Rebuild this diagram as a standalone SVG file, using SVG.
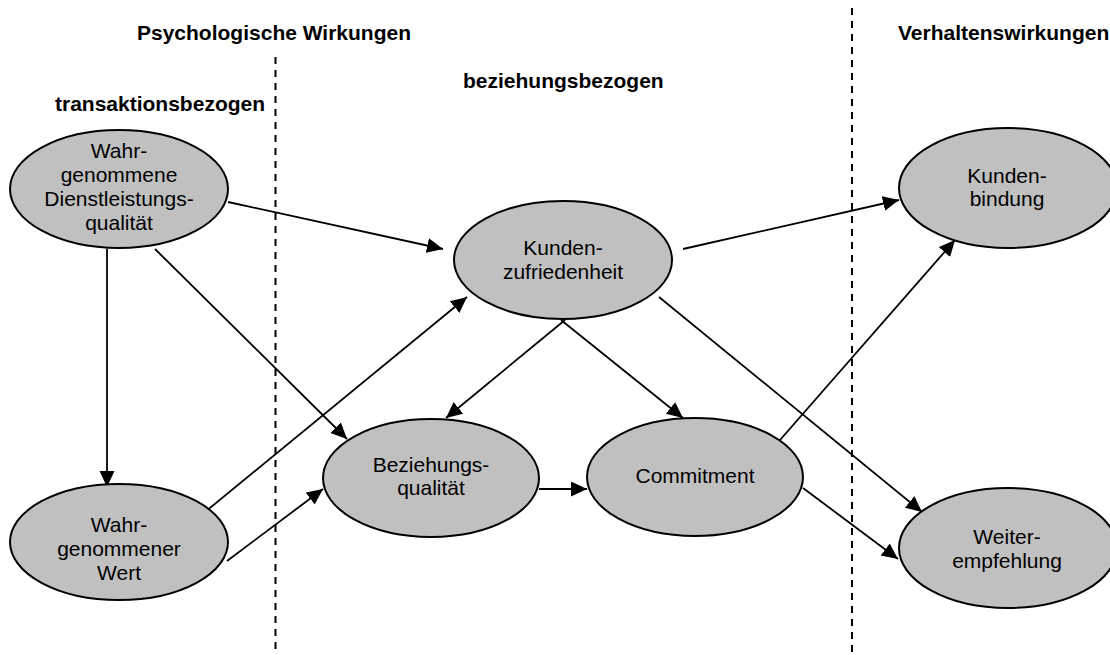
<svg xmlns="http://www.w3.org/2000/svg" width="1110" height="655" viewBox="0 0 1110 655">
  <style>
    .hdr { font-family: "Liberation Sans", Arial, sans-serif; font-size: 21px; font-weight: bold; fill: #000; }
    .lbl { font-family: "Liberation Sans", Arial, sans-serif; font-size: 21px; fill: #000; text-anchor: middle; }
    .node ellipse { fill: #c0c0c0; stroke: #000; stroke-width: 2; }
    .divider { stroke: #000; stroke-width: 2; stroke-dasharray: 7 6; fill: none; }
    #connectors line { stroke: #000; stroke-width: 1.8; marker-end: url(#arrow); }
  </style>
  <defs>
    <marker id="arrow" markerUnits="userSpaceOnUse" markerWidth="17" markerHeight="16" refX="16" refY="7.5" orient="auto">
      <path d="M0,0 L16,7.5 L0,15 z" fill="#000"/>
    </marker>
  </defs>

  <rect width="1110" height="655" fill="#fff"/>

  <!-- section dividers -->
  <line class="divider" x1="275.5" y1="57" x2="275.5" y2="655"/>
  <line class="divider" x1="852" y1="8" x2="852" y2="655"/>

  <!-- section headings -->
  <text class="hdr" x="137" y="40">Psychologische Wirkungen</text>
  <text class="hdr" x="898" y="40">Verhaltenswirkungen</text>
  <text class="hdr" x="55" y="111">transaktionsbezogen</text>
  <text class="hdr" x="463" y="88">beziehungsbezogen</text>

  <!-- connectors -->
  <g id="connectors">
    <line x1="228" y1="202" x2="443" y2="249"/>
    <line x1="107" y1="249" x2="107" y2="487"/>
    <line x1="155" y1="249" x2="347" y2="439"/>
    <line x1="205" y1="512" x2="467" y2="297"/>
    <line x1="227" y1="561" x2="323" y2="489"/>
    <line x1="565" y1="320" x2="446" y2="418"/>
    <line x1="561" y1="320" x2="683" y2="418"/>
    <line x1="539" y1="489" x2="587" y2="489"/>
    <line x1="683" y1="249" x2="899" y2="200"/>
    <line x1="659" y1="297" x2="922" y2="512"/>
    <line x1="780" y1="440" x2="955" y2="240"/>
    <line x1="803" y1="488" x2="898" y2="559"/>
  </g>

  <!-- nodes -->
  <g id="dienstleistungsqualitaet" class="node">
    <ellipse cx="119" cy="189" rx="109" ry="59"/>
    <text class="lbl" x="119" y="158">Wahr-</text>
    <text class="lbl" x="119" y="182">genommene</text>
    <text class="lbl" x="119" y="206">Dienstleistungs-</text>
    <text class="lbl" x="119" y="230">qualität</text>
  </g>

  <g id="wert" class="node">
    <ellipse cx="119" cy="542" rx="109" ry="58"/>
    <text class="lbl" x="119" y="532">Wahr-</text>
    <text class="lbl" x="119" y="556">genommener</text>
    <text class="lbl" x="119" y="580">Wert</text>
  </g>

  <g id="kundenzufriedenheit" class="node">
    <ellipse cx="563" cy="260" rx="109" ry="59"/>
    <text class="lbl" x="563" y="255">Kunden-</text>
    <text class="lbl" x="563" y="279">zufriedenheit</text>
  </g>

  <g id="beziehungsqualitaet" class="node">
    <ellipse cx="431" cy="478" rx="108" ry="59"/>
    <text class="lbl" x="431" y="472">Beziehungs-</text>
    <text class="lbl" x="431" y="495">qualität</text>
  </g>

  <g id="commitment" class="node">
    <ellipse cx="695" cy="477" rx="108" ry="59"/>
    <text class="lbl" x="695" y="483">Commitment</text>
  </g>

  <g id="kundenbindung" class="node">
    <ellipse cx="1008" cy="188" rx="109" ry="60"/>
    <text class="lbl" x="1007" y="183">Kunden-</text>
    <text class="lbl" x="1007" y="206">bindung</text>
  </g>

  <g id="weiterempfehlung" class="node">
    <ellipse cx="1008" cy="548" rx="109" ry="60"/>
    <text class="lbl" x="1007" y="544">Weiter-</text>
    <text class="lbl" x="1007" y="568">empfehlung</text>
  </g>
</svg>
